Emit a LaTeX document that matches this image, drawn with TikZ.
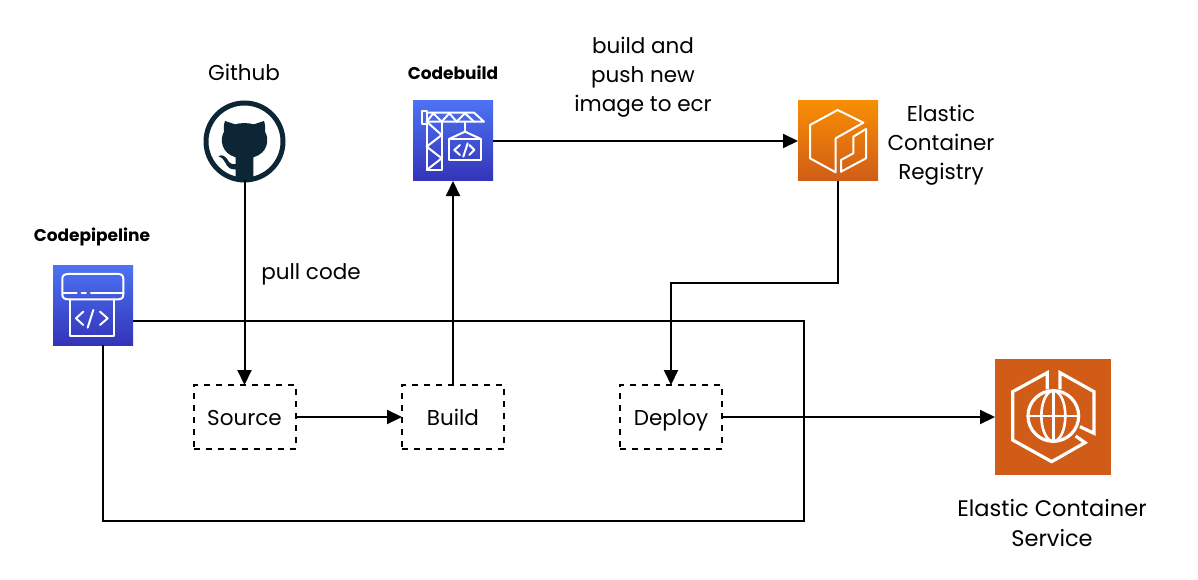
\documentclass[tikz,border=0pt]{standalone}
\usepackage{fontspec}
\setmainfont{Poppins}
\usetikzlibrary{arrows.meta}
\definecolor{ghink}{HTML}{0D2636}
\definecolor{blueT}{HTML}{4D72F3}
\definecolor{blueB}{HTML}{3334B9}
\definecolor{orT}{HTML}{F78E04}
\definecolor{orB}{HTML}{D05C17}
\definecolor{ecsfill}{HTML}{D05C17}
\tikzset{
  x=1pt,y=-1pt,
  every node/.style={inner sep=0pt,outer sep=0pt},
  lbl/.style={font=\fontsize{21.5}{29}\selectfont,text=black,align=center},
  blbl/.style={font=\fontsize{17}{17}\selectfont\bfseries,text=black},
  stepbox/.style={draw=black,line width=2pt,dash pattern=on 6pt off 6pt,minimum width=102pt,minimum height=64pt,font=\fontsize{21.5}{29}\selectfont,text height=18pt,text depth=2pt},
  iconbox/.style={minimum width=80pt,minimum height=80pt},
  bluebox/.style={iconbox,top color=blueT,bottom color=blueB},
  orbox/.style={iconbox,top color=orT,bottom color=orB},
  glyph/.style={draw=white,line width=2pt,line join=round,line cap=round},
  wire/.style={draw=black,line width=2pt},
  link/.style={wire,-{Stealth[length=15pt,width=14pt,inset=0pt]}},
}
\begin{document}
\begin{tikzpicture}[x=1pt,y=-1pt]
\useasboundingbox (0,0) rectangle (1198,580);
\fill[white] (0,0) rectangle (1198,580);

% icons
\node[bluebox] (pipe) at (93,305) {};
\node[bluebox] (cb) at (453,141) {};
\node[orbox] (ecr) at (838,141) {};
\node[iconbox,fill=ecsfill,minimum width=116pt,minimum height=116pt] (ecs) at (1053,417) {};
\node[circle,draw=ghink,line width=5pt,fill=white,minimum size=77pt] (gh) at (244.5,141.5) {};

% GitHub cat
\begin{scope}[shift={(190,90)},x=0.3333pt,y=-0.3333pt]
\fill[ghink] (105,93) -- (135,103) .. controls (150,98) and (175,98) .. (192,103) -- (222,93)
  .. controls (226,105) and (226,118) .. (225,125) .. controls (240,150) and (232,190) .. (190,202)
  -- (190,270) .. controls (170,274) and (155,272) .. (137,264) -- (137,238)
  .. controls (122,240) and (112,232) .. (106,218) .. controls (102,208) and (96,203) .. (85,199)
  .. controls (95,192) and (105,198) .. (112,208) .. controls (118,220) and (126,224) .. (137,222)
  -- (137,202) .. controls (95,190) and (88,150) .. (102,125) .. controls (100,115) and (101,105) .. (105,93) -- cycle;
\end{scope}

% Codepipeline glyph
\begin{scope}[shift={(40,255)},x=0.3333pt,y=-0.3333pt]
\draw[glyph] (85,57) -- (235,57) .. controls (245,57) and (250,62) .. (250,72) -- (250,118) .. controls (250,128) and (245,133) .. (235,133)
  -- (85,133) .. controls (72,133) and (67,128) .. (67,118) -- (67,72) .. controls (67,62) and (72,57) .. (85,57) -- cycle;
\draw[glyph] (67,113) -- (110,113) (125,113) -- (138,113) (153,113) -- (250,113);
\draw[glyph] (90,133) -- (90,243) -- (222,243) -- (222,133);
\draw[glyph] (130,170) -- (108,190) -- (130,210);
\draw[glyph] (160,165) -- (143,218);
\draw[glyph] (180,170) -- (203,190) -- (180,210);
\end{scope}

% Codebuild glyph
\begin{scope}[shift={(400,90)},x=0.3333pt,y=-0.3333pt]
\draw[glyph] (65,62) rectangle (80,103);
\draw[glyph] (80,68) -- (222,68) -- (252,95) -- (80,95);
\draw[glyph] (80,95) -- (100,70) -- (125,95) -- (148,70) -- (170,95) -- (195,70) -- (222,95);
\draw[glyph] (80,95) -- (80,240) -- (125,240) -- (125,95);
\draw[glyph] (80,95) -- (125,135) -- (80,170) -- (125,205) -- (80,240);
\draw[glyph] (195,95) -- (195,125);
\draw[glyph] (147,147) -- (195,125) -- (243,147);
\draw[glyph] (147,147) rectangle (243,210);
\draw[glyph] (180,165) -- (163,180) -- (180,195);
\draw[glyph] (203,160) -- (190,200);
\draw[glyph] (208,165) -- (223,180) -- (208,195);
\end{scope}

% ECR glyph
\begin{scope}[shift={(785,90)},x=0.3333pt,y=-0.3333pt]
\draw[glyph] (235,98) -- (158,60) -- (75,105) -- (75,205) -- (152,247) -- (152,145) -- cycle;
\draw[glyph] (243,117) -- (205,140) -- (205,190) -- (168,210) -- (168,245) -- (243,205) -- cycle;
\end{scope}

% ECS glyph
\begin{scope}[shift={(985,350)},x=0.3333pt,y=-0.3333pt]
\draw[glyph,line width=3.2pt,line cap=butt,line join=miter] (187,118) -- (187,68) -- (83,125) -- (83,270) -- (200,335) -- (300,278) -- (272,258);
\draw[glyph,line width=3.2pt,line cap=butt,line join=miter] (225,118) -- (225,68) -- (327,125) -- (327,250) -- (285,230);
\draw[glyph,line width=3.2pt] (205,198) circle[radius=76];
\draw[glyph,line width=2.6pt] (205,198) ellipse[x radius=36,y radius=76];
\draw[glyph,line width=2.6pt] (205,122) -- (205,274) (129,198) -- (281,198);
\end{scope}

% step boxes
\node[stepbox] (src) at (244.5,417) {Source};
\node[stepbox] (bld) at (453,417) {Build};
\node[stepbox] (dep) at (671,417) {Deploy};

% labels
\node[lbl] (lgh) at (244,72) {Github};
\node[blbl] (lcb) at (453,73) {Codebuild};
\node[blbl] (lcp) at (92,237) {Codepipeline};
\node[lbl] (lpull) at (311,274) {pull code};
\node[lbl] (lpush) at (643,77) {build and\\push new\\image to ecr};
\node[lbl] (lecr) at (941,145) {Elastic\\Container\\Registry};
\node[lbl,font=\fontsize{22.5}{30}\selectfont] (lecs) at (1052,523) {Elastic Container\\Service};

% free corners
\coordinate (pipeE) at (133,321);
\coordinate (pipeS) at (103,345);

% connectors
\draw[link] (gh.south) -- (src.north);
\draw[link] (src.east) -- (bld.west);
\draw[link] (bld.north) -- (cb.south);
\draw[link] (cb.east) -- (ecr.west);
\draw[link] (ecr.south) -- (838,283) -- (671,283) -- (dep.north);
\draw[link] (dep.east) -- (dep.east -| ecs.west);
\draw[wire] (pipeE) -- (804,321) -- (804,521) -- (103,521) -- (pipeS);
\end{tikzpicture}
\end{document}
